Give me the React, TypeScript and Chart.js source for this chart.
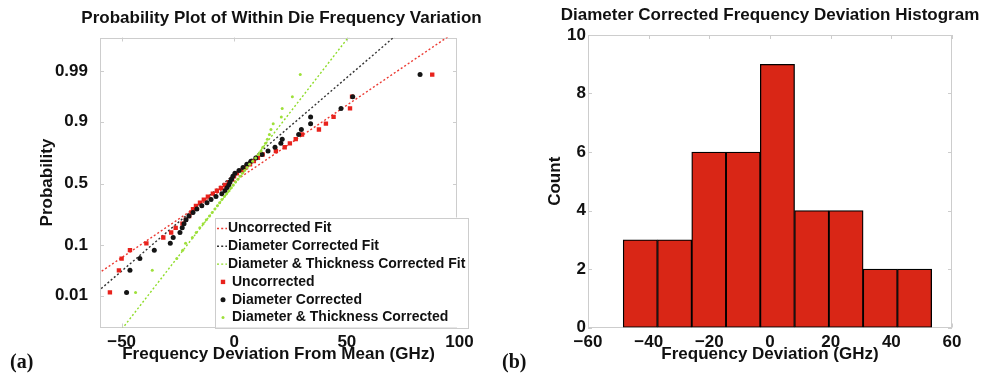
import React, { useEffect, useRef } from "react";
import { Chart, registerables } from "chart.js";

Chart.register(...registerables);

const FONT = "'Liberation Sans', Arial, Helvetica, sans-serif";
const TEXT = "#111111";

// ---------- (a) Probability plot data (sorted deviations, GHz) ----------
const uncorrectedGHz = [
  -55.2, -51.2, -50.0, -46.3, -39.0, -31.5, -28.0, -26.0, -23.0, -21.5,
  -20.0, -19.0, -18.3, -17.0, -15.2, -13.5, -11.7, -9.5, -7.7, -5.9,
  -4.1, -2.4, -1.0, -0.1, 1.2, 3.4, 5.2, 7.0, 8.7, 10.5,
  12.6, 18.5, 22.4, 24.7, 27.3, 30.1, 37.6, 40.7, 44.1, 51.4,
  52.3, 87.9,
];
const diameterCorrectedGHz = [
  -47.8, -46.3, -41.9, -35.5, -28.4, -27.1, -24.1, -23.1, -22.3, -21.4,
  -20.1, -18.3, -16.6, -14.4, -12.1, -10.3, -8.1, -5.5, -4.1, -3.2,
  -2.4, -1.9, -1.2, -0.6, 0.3, 2.1, 3.9, 5.6, 7.4, 9.6,
  12.3, 15.0, 18.1, 20.7, 21.3, 28.6, 29.8, 33.9, 33.9, 47.4,
  52.6, 82.5,
];
const thicknessCorrectedGHz = [
  -43.8, -36.4, -25.5, -22.9, -21.6, -18.6, -16.9, -15.3, -13.8, -12.4,
  -11.0, -9.8, -8.6, -7.5, -6.5, -5.5, -4.4, -3.4, -2.3, -1.3,
  -0.4, 0.6, 1.6, 2.6, 3.6, 4.6, 5.7, 6.8, 8.2, 9.5,
  10.8, 11.9, 12.7, 13.9, 14.7, 15.6, 16.3, 17.3, 20.9, 21.3,
  25.8, 29.3,
];
// fit lines: x values (GHz) at the two probabilities below
const fitEndProbabilities = [0.001, 0.999];
const uncorrectedFitGHz = [-99.0, 96.3];
const diameterFitGHz = [-81.7, 72.2];
const thicknessFitGHz = [-51.0, 51.6];

const probTickValues = [0.01, 0.1, 0.5, 0.9, 0.99];
const probTickLabels = ["0.01", "0.1", "0.5", "0.9", "0.99"];
const probAxisLimits = [0.0014, 0.99878];
const devAxisLimits = [-59.6, 98.9];
const devTicks = [-50, 0, 50, 100];

// ---------- (b) Histogram data ----------
const histBinEdges = [-48.4, -37.1, -25.8, -14.5, -3.2, 8.1, 19.4, 30.7, 42.0, 53.3];
const histCounts = [3, 3, 6, 6, 9, 4, 4, 2, 2];
const histXLimits = [-60, 60];
const histYLimits = [0, 10];

// inverse standard normal CDF (probability-paper axis transform)
function probit(p: number): number {
  const a = [-3.969683028665376e1, 2.209460984245205e2, -2.759285104469687e2, 1.38357751867269e2, -3.066479806614716e1, 2.506628277459239];
  const b = [-5.447609879822406e1, 1.615858368580409e2, -1.556989798598866e2, 6.680131188771972e1, -1.328068155288572e1];
  const c = [-7.784894002430293e-3, -3.223964580411365e-1, -2.400758277161838, -2.549732539343734, 4.374664141464968, 2.938163982698783];
  const d = [7.784695709041462e-3, 3.224671290700398e-1, 2.445134137142996, 3.754408661907416];
  const pl = 0.02425;
  if (p < pl) {
    const q = Math.sqrt(-2 * Math.log(p));
    return (((((c[0] * q + c[1]) * q + c[2]) * q + c[3]) * q + c[4]) * q + c[5]) / ((((d[0] * q + d[1]) * q + d[2]) * q + d[3]) * q + 1);
  }
  if (p <= 1 - pl) {
    const q = p - 0.5;
    const r = q * q;
    return ((((((a[0] * r + a[1]) * r + a[2]) * r + a[3]) * r + a[4]) * r + a[5]) * q) / (((((b[0] * r + b[1]) * r + b[2]) * r + b[3]) * r + b[4]) * r + 1);
  }
  const q = Math.sqrt(-2 * Math.log(1 - p));
  return -(((((c[0] * q + c[1]) * q + c[2]) * q + c[3]) * q + c[4]) * q + c[5]) / ((((d[0] * q + d[1]) * q + d[2]) * q + d[3]) * q + 1);
}

// normal probability plot positions (i-0.5)/n
function probPoints(values: number[]) {
  const n = values.length;
  return values.map((v, i) => ({ x: v, y: probit((i + 0.5) / n) }));
}
function fitPoints(xs: number[]) {
  return xs.map((v, i) => ({ x: v, y: probit(fitEndProbabilities[i]) }));
}

const fmtNum = (v: number) => (v < 0 ? "\u2212" + Math.abs(v) : String(v));

const tickFont = { family: FONT, size: 17, weight: "bold" as const };
const titleFont = { family: FONT, size: 17, weight: "bold" as const };

// ---------- plugins ----------
const centerTitlePlugin = {
  id: "centerTitle",
  afterDraw(chart: any, _a: any, o: any) {
    const { ctx, chartArea } = chart;
    ctx.save();
    ctx.font = `bold ${o.size}px ${FONT}`;
    ctx.fillStyle = TEXT;
    ctx.textAlign = "center";
    ctx.textBaseline = "middle";
    ctx.fillText(o.text, (chartArea.left + chartArea.right) / 2 + (o.dx || 0), o.y);
    ctx.restore();
  },
};

const plotBoxPlugin = {
  id: "plotBox",
  beforeDatasetsDraw(chart: any, _a: any, o: any) {
    const { ctx, chartArea: ca, scales } = chart;
    ctx.save();
    ctx.strokeStyle = o.color;
    ctx.lineWidth = 1;
    ctx.strokeRect(Math.round(ca.left) + 0.5, Math.round(ca.top) + 0.5, Math.round(ca.right - ca.left) - 1, Math.round(ca.bottom - ca.top) - 1);
    const len = o.tickLen;
    ctx.beginPath();
    for (const t of scales.x.ticks) {
      if (t.value < scales.x.min || t.value > scales.x.max) continue;
      const px = Math.round(scales.x.getPixelForValue(t.value)) + 0.5;
      ctx.moveTo(px, ca.top);
      ctx.lineTo(px, ca.top + len);
      ctx.moveTo(px, ca.bottom);
      ctx.lineTo(px, ca.bottom - len);
    }
    for (const t of scales.y.ticks) {
      if (t.value < scales.y.min || t.value > scales.y.max) continue;
      const py = Math.round(scales.y.getPixelForValue(t.value)) + 0.5;
      ctx.moveTo(ca.left, py);
      ctx.lineTo(ca.left + len, py);
      ctx.moveTo(ca.right, py);
      ctx.lineTo(ca.right - len, py);
    }
    ctx.stroke();
    ctx.restore();
  },
};

const boxLegendPlugin = {
  id: "boxLegend",
  afterDraw(chart: any, _a: any, o: any) {
    const { ctx, chartArea: ca } = chart;
    const right = ca.right + o.overhang;
    const bottom = ca.bottom;
    const left = right - o.width;
    const top = bottom - o.height;
    ctx.save();
    ctx.fillStyle = "#ffffff";
    ctx.fillRect(left, top, o.width, o.height);
    ctx.strokeStyle = o.borderColor;
    ctx.lineWidth = 1;
    ctx.strokeRect(Math.round(left) + 0.5, Math.round(top) + 0.5, o.width, o.height);
    ctx.font = `bold ${o.fontSize}px ${FONT}`;
    ctx.textBaseline = "middle";
    ctx.textAlign = "left";
    chart.data.datasets.forEach((ds: any, i: number) => {
      const y = top + o.firstRow + i * o.rowGap;
      if (ds.legendKind === "line") {
        ctx.strokeStyle = ds.borderColor;
        ctx.lineWidth = ds.borderWidth;
        ctx.setLineDash(ds.borderDash || []);
        ctx.beginPath();
        ctx.moveTo(left + 2, y);
        ctx.lineTo(left + 12, y);
        ctx.stroke();
        ctx.setLineDash([]);
        ctx.fillStyle = TEXT;
        ctx.fillText(ds.label, left + 13, y);
      } else {
        ctx.fillStyle = ds.backgroundColor;
        const mx = left + 8;
        const r = ds.pointRadius;
        if (ds.pointStyle === "rect") {
          const s = r * Math.SQRT1_2;
          ctx.fillRect(mx - s, y - s, 2 * s, 2 * s);
        } else {
          ctx.beginPath();
          ctx.arc(mx, y, r, 0, Math.PI * 2);
          ctx.fill();
        }
        ctx.fillStyle = TEXT;
        ctx.fillText(ds.label, left + 17, y);
      }
    });
    ctx.restore();
  },
};

const RED = "#e8221c";
const RED_LINE = "#ec3a32";
const BLACK = "#151515";
const GREEN = "#9ee03a";
const GREEN_LINE = "#8fdc2a";

function ProbabilityPlot() {
  const ref = useRef<HTMLCanvasElement>(null);
  useEffect(() => {
    if (!ref.current) return;
    const dash = [2, 2.2];
    const chart = new Chart(ref.current, {
      type: "scatter",
      data: {
        datasets: [
          { label: "Uncorrected Fit", legendKind: "line", data: fitPoints(uncorrectedFitGHz), showLine: true, pointRadius: 0, borderColor: RED_LINE, borderWidth: 1.4, borderDash: dash, order: 6 } as any,
          { label: "Diameter Corrected Fit", legendKind: "line", data: fitPoints(diameterFitGHz), showLine: true, pointRadius: 0, borderColor: "#333333", borderWidth: 1.4, borderDash: dash, order: 5 } as any,
          { label: "Diameter & Thickness Corrected Fit", legendKind: "line", data: fitPoints(thicknessFitGHz), showLine: true, pointRadius: 0, borderColor: GREEN_LINE, borderWidth: 1.4, borderDash: dash, order: 4 } as any,
          { label: "Uncorrected", legendKind: "point", data: probPoints(uncorrectedGHz), pointStyle: "rect", pointRadius: 3.1, backgroundColor: RED, borderWidth: 0, order: 3 } as any,
          { label: "Diameter Corrected", legendKind: "point", data: probPoints(diameterCorrectedGHz), pointStyle: "circle", pointRadius: 2.5, backgroundColor: BLACK, borderWidth: 0, order: 2 } as any,
          { label: "Diameter & Thickness Corrected", legendKind: "point", data: probPoints(thicknessCorrectedGHz), pointStyle: "circle", pointRadius: 1.5, backgroundColor: GREEN, borderWidth: 0, order: 1 } as any,
        ],
      },
      options: {
        responsive: false,
        animation: false,
        events: [],
        layout: { padding: { left: 0, right: 33, top: 37.5, bottom: 0 } },
        plugins: {
          legend: { display: false },
          tooltip: { enabled: false },
          centerTitle: { text: "Probability Plot of Within Die Frequency Variation", size: 17, y: 18.5, dx: 3 },
          plotBox: { color: "#cdcdcd", tickLen: 4 },
          boxLegend: { overhang: 11, width: 253, height: 110, borderColor: "#cdcdcd", fontSize: 14, firstRow: 11, rowGap: 17.8 },
        } as any,
        scales: {
          x: {
            type: "linear",
            min: devAxisLimits[0],
            max: devAxisLimits[1],
            afterBuildTicks: (s: any) => { s.ticks = devTicks.map((v) => ({ value: v })); },
            afterFit: (s: any) => { s.height = 47.5; },
            grid: { display: false, drawTicks: false },
            border: { display: false },
            ticks: { autoSkip: false, maxRotation: 0, padding: 5, color: TEXT, font: tickFont, callback: (v: any) => fmtNum(Number(v)) },
            title: { display: true, text: "Frequency Deviation From Mean (GHz)", color: TEXT, font: titleFont, padding: { top: 0, bottom: 10 } },
          },
          y: {
            type: "linear",
            min: probit(probAxisLimits[0]),
            max: probit(probAxisLimits[1]),
            afterBuildTicks: (s: any) => { s.ticks = probTickValues.map((p) => ({ value: probit(p) })); },
            afterFit: (s: any) => { s.width = 100; },
            grid: { display: false, drawTicks: false },
            border: { display: false },
            ticks: { autoSkip: false, padding: 12, color: TEXT, font: tickFont, callback: (_v: any, i: number) => probTickLabels[i] },
            title: { display: true, text: "Probability", color: TEXT, font: titleFont, padding: { top: 36.8, bottom: 0 } },
          },
        },
      } as any,
      plugins: [plotBoxPlugin, centerTitlePlugin, boxLegendPlugin],
    });
    return () => chart.destroy();
  }, []);
  return <canvas ref={ref} width={490} height={375} style={{ position: "absolute", left: 0, top: 0, width: 490, height: 375 }} />;
}

function Histogram() {
  const ref = useRef<HTMLCanvasElement>(null);
  useEffect(() => {
    if (!ref.current) return;
    const centers = histCounts.map((_, i) => (histBinEdges[i] + histBinEdges[i + 1]) / 2);
    const chart = new Chart(ref.current, {
      type: "bar",
      data: {
        datasets: [
          {
            label: "Count",
            data: centers.map((c, i) => ({ x: c, y: histCounts[i] })),
            backgroundColor: "#d92616",
            borderColor: "#000000",
            borderWidth: 1.3,
            borderSkipped: false,
            barPercentage: 1,
            categoryPercentage: 1,
          } as any,
        ],
      },
      options: {
        responsive: false,
        animation: false,
        events: [],
        layout: { padding: { left: 0, right: 32, top: 35, bottom: 0 } },
        plugins: {
          legend: { display: false },
          tooltip: { enabled: false },
          centerTitle: { text: "Diameter Corrected Frequency Deviation Histogram", size: 17, y: 15.5, dx: 0 },
          plotBox: { color: "#cdcdcd", tickLen: 4 },
        } as any,
        scales: {
          x: {
            type: "linear",
            offset: false,
            min: histXLimits[0],
            max: histXLimits[1],
            afterFit: (s: any) => { s.height = 47.5; },
            grid: { display: false, drawTicks: false, offset: false },
            border: { display: false },
            ticks: { stepSize: 20, autoSkip: false, maxRotation: 0, padding: 5, color: TEXT, font: tickFont, callback: (v: any) => fmtNum(Number(v)) },
            title: { display: true, text: "Frequency Deviation (GHz)", color: TEXT, font: titleFont, padding: { top: 0, bottom: 10 } },
          },
          y: {
            type: "linear",
            min: histYLimits[0],
            max: histYLimits[1],
            afterFit: (s: any) => { s.width = 98; },
            grid: { display: false, drawTicks: false },
            border: { display: false },
            ticks: { stepSize: 2, padding: 2, color: TEXT, font: tickFont },
            title: { display: true, text: "Count", color: TEXT, font: titleFont, padding: { top: 54.8, bottom: 0 } },
          },
        },
      } as any,
      plugins: [plotBoxPlugin, centerTitlePlugin],
    });
    return () => chart.destroy();
  }, []);
  return <canvas ref={ref} width={494} height={375} style={{ position: "absolute", left: 490, top: 0, width: 494, height: 375 }} />;
}

export default function App() {
  const panelLabel: React.CSSProperties = {
    position: "absolute",
    top: 351,
    fontFamily: "'Liberation Serif', 'Times New Roman', serif",
    fontWeight: "bold",
    fontSize: 20,
    lineHeight: "20px",
    color: TEXT,
  };
  return (
    <div style={{ position: "fixed", left: 0, top: 0, width: 984, height: 375, overflow: "hidden", background: "#ffffff" }}>
      <ProbabilityPlot />
      <Histogram />
      <div style={{ ...panelLabel, left: 10 }}>(a)</div>
      <div style={{ ...panelLabel, left: 502 }}>(b)</div>
    </div>
  );
}
